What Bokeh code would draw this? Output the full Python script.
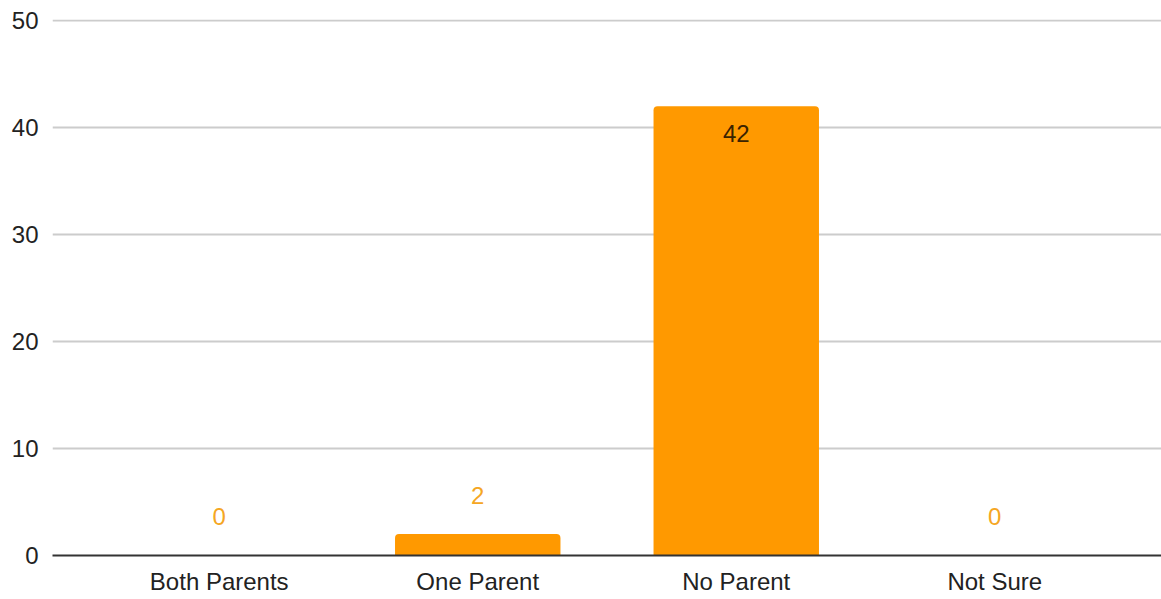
from bokeh.plotting import figure
from bokeh.models import ColumnDataSource, FactorRange, SingleIntervalTicker
from bokeh.core.properties import value
from bokeh.embed import file_html
from bokeh.resources import INLINE

# Survey answers and counts
categories = ["Both Parents", "One Parent", "No Parent", "Not Sure"]
counts = [0, 2, 42, 0]
y_ticks = [0, 10, 20, 30, 40, 50]

BAR = "#ff9900"
FONT = "Liberation Sans"
FONT_SIZE = "24px"

# Labels sit above short bars and inside tall ones
inside = [c >= 10 for c in counts]
label_color = ["#3a2300" if i else "#f5a623" for i in inside]
label_offset = [27 if i else -39 for i in inside]

src = ColumnDataSource(dict(
    cat=categories,
    count=counts,
    label=[str(c) for c in counts],
    lcolor=label_color,
    loff=label_offset,
))

p = figure(
    width=1161, height=599,
    x_range=FactorRange(factors=categories, range_padding=0.145, range_padding_units="absolute"),
    y_range=(0, 50.1),
    output_backend="svg", toolbar_location=None,
    min_border_left=52, min_border_right=0, min_border_top=19, min_border_bottom=44,
)
p.outline_line_color = None
p.background_fill_color = "white"
p.border_fill_color = "white"

p.vbar(x="cat", top="count", width=0.64, source=src, fill_color=BAR,
       line_color=None, border_radius=(4, 4, 0, 0))

p.text(x="cat", y="count", text="label", source=src, text_color="lcolor",
       y_offset="loff", text_align="center", text_baseline="middle",
       text_font=value(FONT), text_font_size=FONT_SIZE)

# Axes
p.yaxis.ticker = y_ticks
p.yaxis.axis_line_color = None
p.yaxis.major_tick_line_color = None
p.yaxis.major_tick_out = 0
p.yaxis.minor_tick_line_color = None
p.yaxis.minor_tick_out = 0
p.yaxis.major_label_text_font = FONT
p.yaxis.major_label_text_font_size = FONT_SIZE
p.yaxis.major_label_text_color = "#222222"
p.yaxis.major_label_standoff = 14

p.xaxis.axis_line_color = "#333333"
p.xaxis.axis_line_width = 2
p.xaxis.major_tick_line_color = None
p.xaxis.major_tick_out = 0
p.xaxis.minor_tick_line_color = None
p.xaxis.minor_tick_out = 0
p.xaxis.major_label_text_font = FONT
p.xaxis.major_label_text_font_size = FONT_SIZE
p.xaxis.major_label_text_color = "#222222"
p.xaxis.major_label_standoff = 12

p.xgrid.grid_line_color = None
p.ygrid.ticker = y_ticks
p.ygrid.grid_line_color = "#cccccc"
p.ygrid.grid_line_width = 2

open("out.html", "w").write(file_html(p, INLINE))
